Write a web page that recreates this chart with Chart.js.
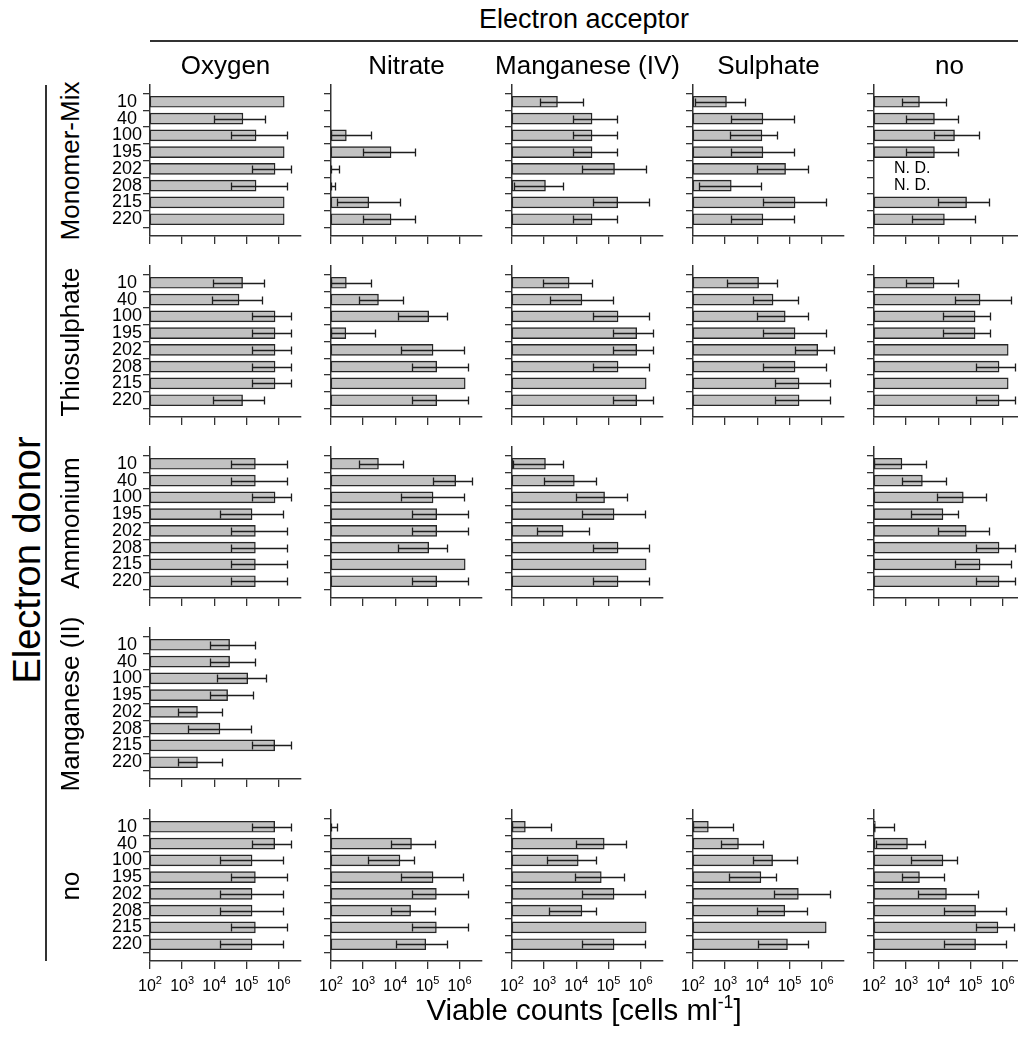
<!DOCTYPE html>
<html>
<head>
<meta charset="utf-8">
<script src="https://cdn.jsdelivr.net/npm/chart.js@4/dist/chart.umd.min.js"></script>
<style>
  html, body { margin: 0; padding: 0; background: #fff; overflow: hidden; }
  body { position: relative; width: 1018px; height: 1038px; font-family: "Liberation Sans", Arial, sans-serif; color: #000; }
  .panel { position: absolute; }
  .txt { position: absolute; white-space: nowrap; transform: translate(-50%, -50%); line-height: 1; }
  .rot { transform: translate(-50%, -50%) rotate(-90deg); }
  .rule { position: absolute; background: #333; }
  sup { font-size: 60%; vertical-align: 0.7em; line-height: 0; }
</style>
</head>
<body>
<script>
// strains on the y axis, log counts on the x axis
const categories = ['10', '40', '100', '195', '202', '208', '215', '220'];
const acceptors = ['Oxygen', 'Nitrate', 'Manganese (IV)', 'Sulphate', 'no'];
const donors = ['Monomer-Mix', 'Thiosulphate', 'Ammonium', 'Manganese (II)', 'no'];
const exponents = [2, 3, 4, 5, 6];

// Monomer-Mix
const mixOxygen = [1.5e6, 7.8e4, 2.0e5, 1.5e6, 7.8e5, 2.0e5, 1.5e6, 1.5e6];
const mixOxygenErr = [null, [1e4, 3.7e5], [3.4e4, 1.9e6], null, [1.5e5, 2.5e6], [3.4e4, 1.9e6], null, null];
const mixNitrate = [null, null, 300, 7.4e3, null, null, 1.5e3, 7.4e3];
const mixNitrateErr = [null, null, [100, 1.8e3], [980, 4.2e4], [100, 180], [100, 130], [150, 1.4e4], [980, 4.2e4]];
const mixMnIV = [2.6e3, 3.1e4, 3.1e4, 3.1e4, 1.55e5, 1.1e3, 1.95e5, 3.1e4];
const mixMnIVErr = [[720, 1.6e4], [7.8e3, 1.9e5], [7.8e3, 1.9e5], [7.8e3, 1.9e5], [1.55e4, 1.45e6], [115, 3.9e3], [3.4e4, 1.9e6], [7.8e3, 1.9e5]];
const mixSulphate = [1.1e3, 1.5e4, 1.4e4, 1.5e4, 7.6e4, 1.55e3, 1.5e5, 1.5e4];
const mixSulphateErr = [[115, 4.1e3], [1.55e3, 1.4e5], [1.4e3, 4.1e4], [1.55e3, 1.4e5], [1e4, 3.8e5], [150, 1.35e4], [1.5e4, 1.4e6], [1.55e3, 1.4e5]];
const mixNone = [2.6e3, 7.6e3, 3.2e4, 7.6e3, null, null, 7.6e4, 1.55e4];
const mixNoneErr = [[740, 1.7e4], [980, 4.2e4], [7.6e3, 1.8e5], [980, 4.2e4], null, null, [9.8e3, 3.8e5], [1.5e3, 1.4e5]];
const mixNoneNotes = [null, null, null, null, 'N. D.', 'N. D.', null, null];

// Thiosulphate
const thioOxygen = [7.6e4, 5.9e4, 7.8e5, 7.8e5, 7.8e5, 7.8e5, 7.8e5, 7.6e4];
const thioOxygenErr = [[9.3e3, 3.6e5], [8.7e3, 3.0e5], [1.45e5, 2.4e6], [1.45e5, 2.4e6], [1.45e5, 2.4e6], [1.45e5, 2.4e6], [1.45e5, 2.4e6], [9.3e3, 3.6e5]];
const thioNitrate = [300, 3.0e3, 1.1e5, 290, 1.5e5, 1.95e5, 1.5e6, 1.95e5];
const thioNitrateErr = [[100, 1.8e3], [740, 1.8e4], [1.2e4, 4.1e5], [100, 2.3e3], [1.55e4, 1.4e6], [3.3e4, 1.9e6], null, [3.3e4, 1.9e6]];
const thioMnIV = [6.0e3, 1.5e4, 2.0e5, 7.6e5, 7.6e5, 2.0e5, 1.5e6, 7.6e5];
const thioMnIVErr = [[890, 3.0e4], [1.5e3, 1.4e5], [3.4e4, 1.9e6], [1.4e5, 2.4e6], [1.4e5, 2.4e6], [3.4e4, 1.9e6], null, [1.4e5, 2.4e6]];
const thioSulphate = [1.1e4, 3.1e4, 7.4e4, 1.5e5, 7.6e5, 1.5e5, 2.0e5, 2.0e5];
const thioSulphateErr = [[1.15e3, 4.0e4], [7.4e3, 1.9e5], [1e4, 3.7e5], [1.55e4, 1.4e6], [1.45e5, 2.4e6], [1.55e4, 1.4e6], [3.5e4, 1.9e6], [3.5e4, 1.9e6]];
const thioNone = [7.4e3, 2.0e5, 1.4e5, 1.4e5, 1.5e6, 7.8e5, 1.5e6, 7.8e5];
const thioNoneErr = [[1e3, 4.1e4], [3.4e4, 1.9e6], [1.4e4, 4.1e5], [1.4e4, 4.1e5], null, [1.5e5, 2.4e6], null, [1.5e5, 2.4e6]];

// Ammonium
const ammOxygen = [1.9e5, 1.9e5, 7.8e5, 1.5e5, 1.9e5, 1.9e5, 1.9e5, 1.9e5];
const ammOxygenErr = [[3.3e4, 1.8e6], [3.3e4, 1.8e6], [1.45e5, 2.4e6], [1.5e4, 1.4e6], [3.3e4, 1.8e6], [3.3e4, 1.8e6], [3.3e4, 1.8e6], [3.3e4, 1.8e6]];
const ammNitrate = [3.0e3, 7.6e5, 1.5e5, 1.95e5, 1.95e5, 1.1e5, 1.5e6, 1.95e5];
const ammNitrateErr = [[740, 1.8e4], [1.5e5, 2.4e6], [1.55e4, 1.4e6], [3.3e4, 1.9e6], [3.3e4, 1.9e6], [1.2e4, 4.1e5], null, [3.3e4, 1.9e6]];
const ammMnIV = [1.1e3, 8.7e3, 7.6e4, 1.5e5, 3.9e3, 2.0e5, 1.5e6, 2.0e5];
const ammMnIVErr = [[110, 4.0e3], [1e3, 4.0e4], [9.5e3, 3.7e5], [1.55e4, 1.4e6], [590, 2.5e4], [3.4e4, 1.9e6], null, [3.4e4, 1.9e6]];
const ammNone = [740, 3.2e3, 6.0e4, 1.4e4, 7.4e4, 7.8e5, 2.0e5, 7.8e5];
const ammNoneErr = [[100, 4.1e3], [740, 1.8e4], [9.1e3, 3.0e5], [1.4e3, 4.1e4], [9.8e3, 3.8e5], [1.5e5, 2.4e6], [3.4e4, 1.9e6], [1.5e5, 2.4e6]];

// Manganese (II)
const mnOxygen = [3.0e4, 3.0e4, 1.1e5, 2.6e4, 3.0e3, 1.5e4, 7.6e5, 3.0e3];
const mnOxygenErr = [[7.4e3, 1.8e5], [7.4e3, 1.8e5], [1.2e4, 4.1e5], [7.2e3, 1.6e5], [720, 1.8e4], [1.5e3, 1.4e5], [1.5e5, 2.4e6], [720, 1.8e4]];

// no donor
const noneOxygen = [7.6e5, 7.6e5, 1.5e5, 1.9e5, 1.5e5, 1.5e5, 1.9e5, 1.5e5];
const noneOxygenErr = [[1.5e5, 2.4e6], [1.5e5, 2.4e6], [1.5e4, 1.4e6], [3.4e4, 1.9e6], [1.5e4, 1.4e6], [1.5e4, 1.4e6], [3.4e4, 1.9e6], [1.5e4, 1.4e6]];
const noneNitrate = [null, 3.2e4, 1.4e4, 1.5e5, 1.9e5, 3.0e4, 1.9e5, 8.9e4];
const noneNitrateErr = [[100, 150], [7.6e3, 1.7e5], [1.45e3, 3.9e4], [1.55e4, 1.3e6], [3.3e4, 1.8e6], [7.6e3, 1.7e5], [3.3e4, 1.8e6], [1.02e4, 4.1e5]];
const noneMnIV = [260, 7.4e4, 1.15e4, 6.0e4, 1.5e5, 1.5e4, 1.5e6, 1.5e5];
const noneMnIVErr = [[100, 1.6e3], [9.8e3, 3.6e5], [1.2e3, 4.0e4], [8.9e3, 3.0e5], [1.55e4, 1.4e6], [1.4e3, 4.0e4], null, [1.55e4, 1.4e6]];
const noneSulphate = [300, 2.6e3, 3.0e4, 1.3e4, 1.9e5, 7.2e4, 1.4e6, 8.7e4];
const noneSulphateErr = [[100, 1.8e3], [720, 1.55e4], [7.2e3, 1.7e5], [1.3e3, 3.8e4], [3.2e4, 1.8e6], [9.8e3, 3.5e5], null, [1.02e4, 3.9e5]];
const noneNone = [110, 1.1e3, 1.4e4, 2.6e3, 1.8e4, 1.45e5, 7.2e5, 1.45e5];
const noneNoneErr = [[100, 410], [115, 3.9e3], [1.4e3, 3.8e4], [720, 1.5e4], [2.3e3, 1.7e5], [1.55e4, 1.3e6], [1.45e5, 2.3e6], [1.55e4, 1.3e6]];

// rows = donors, columns = acceptors; null = not tested
const panels = [
  [[mixOxygen, mixOxygenErr], [mixNitrate, mixNitrateErr], [mixMnIV, mixMnIVErr], [mixSulphate, mixSulphateErr], [mixNone, mixNoneErr, mixNoneNotes]],
  [[thioOxygen, thioOxygenErr], [thioNitrate, thioNitrateErr], [thioMnIV, thioMnIVErr], [thioSulphate, thioSulphateErr], [thioNone, thioNoneErr]],
  [[ammOxygen, ammOxygenErr], [ammNitrate, ammNitrateErr], [ammMnIV, ammMnIVErr], null, [ammNone, ammNoneErr]],
  [[mnOxygen, mnOxygenErr], null, null, null, null],
  [[noneOxygen, noneOxygenErr], [noneNitrate, noneNitrateErr], [noneMnIV, noneMnIVErr], [noneSulphate, noneSulphateErr], [noneNone, noneNoneErr]]
];

const FONT = '"Liberation Sans", Arial, sans-serif';
const COL_X = [150, 331, 512, 693, 874];
const ROW_Y = [85, 266, 447, 628, 810];
const AREA_W = 151, AREA_H = 151;
const PAD_L = 60, PAD_T = 14, PAD_R = 10, PAD_B = 40;
const X_MAX = 5e6;

function addText(html, x, y, size, rotated) {
  const d = document.createElement('div');
  d.className = 'txt' + (rotated ? ' rot' : '');
  d.style.left = x + 'px';
  d.style.top = y + 'px';
  d.style.fontSize = size + 'px';
  d.innerHTML = html;
  document.body.appendChild(d);
}

function addRule(x, y, w, h) {
  const d = document.createElement('div');
  d.className = 'rule';
  Object.assign(d.style, { left: x + 'px', top: y + 'px', width: w + 'px', height: h + 'px' });
  document.body.appendChild(d);
}

// error whiskers, N. D. notes and the 10^n labels under the last row
function overlay(errs, notes, withTicks) {
  return {
    id: 'overlay',
    afterDatasetsDraw(chart) {
      const { ctx, scales: { x, y } } = chart;
      ctx.save();
      ctx.strokeStyle = '#1e1e1e';
      ctx.lineWidth = 1.3;
      errs.forEach((e, i) => {
        if (!e) return;
        const py = Math.round(y.getPixelForValue(i + 1)) + 0.5;
        const a = Math.round(x.getPixelForValue(e[0])) + 0.5;
        const b = Math.round(x.getPixelForValue(e[1])) + 0.5;
        ctx.beginPath();
        ctx.moveTo(a, py); ctx.lineTo(b, py);
        ctx.moveTo(a, py - 4); ctx.lineTo(a, py + 4);
        ctx.moveTo(b, py - 4); ctx.lineTo(b, py + 4);
        ctx.stroke();
      });
      ctx.fillStyle = '#000';
      ctx.textBaseline = 'middle';
      if (notes) {
        ctx.font = '16px ' + FONT;
        ctx.textAlign = 'left';
        notes.forEach((t, i) => {
          if (t) ctx.fillText(t, x.left + 20, y.getPixelForValue(i + 1));
        });
      }
      if (withTicks) {
        const baseY = y.bottom + 30;
        exponents.forEach(n => {
          const px = x.getPixelForValue(Math.pow(10, n));
          ctx.font = '16px ' + FONT;
          const wb = ctx.measureText('10').width;
          ctx.font = '11px ' + FONT;
          const we = ctx.measureText(String(n)).width;
          const left = px - (wb + we) / 2;
          ctx.textAlign = 'left';
          ctx.textBaseline = 'alphabetic';
          ctx.font = '16px ' + FONT;
          ctx.fillText('10', left, baseY);
          ctx.font = '11px ' + FONT;
          ctx.fillText(String(n), left + wb, baseY - 7);
        });
      }
      ctx.restore();
    }
  };
}

function makePanel(r, c, cell) {
  const [values, errs, notes] = cell;
  const canvas = document.createElement('canvas');
  canvas.className = 'panel';
  canvas.width = PAD_L + AREA_W + PAD_R;
  canvas.height = PAD_T + AREA_H + PAD_B;
  canvas.style.left = (COL_X[c] - PAD_L) + 'px';
  canvas.style.top = (ROW_Y[r] - PAD_T) + 'px';
  document.body.appendChild(canvas);

  const points = values.map((v, i) => (v == null ? null : { x: v, y: i + 1 })).filter(Boolean);

  new Chart(canvas, {
    type: 'bar',
    data: {
      datasets: [{
        data: points,
        backgroundColor: '#c2c2c2',
        borderColor: '#262626',
        borderWidth: 1.4,
        borderSkipped: false,
        barThickness: 11
      }]
    },
    options: {
      indexAxis: 'y',
      responsive: false,
      animation: false,
      devicePixelRatio: 1,
      layout: { padding: { left: 0, top: PAD_T, right: PAD_R, bottom: 0 } },
      plugins: { legend: { display: false }, tooltip: { enabled: false } },
      scales: {
        x: {
          type: 'logarithmic',
          min: 100,
          max: X_MAX,
          offset: false,
          afterBuildTicks: s => { s.ticks = exponents.map(n => ({ value: Math.pow(10, n) })); },
          afterFit: s => { s.height = PAD_B; },
          ticks: { display: false },
          grid: { drawOnChartArea: false, tickLength: 8, color: '#333', lineWidth: 1.3 },
          border: { color: '#333', width: 1.5 }
        },
        y: {
          type: 'linear',
          min: 0,
          max: 9,
          reverse: true,
          offset: false,
          afterBuildTicks: s => { s.ticks = categories.map((_, i) => ({ value: i + 1 })); },
          afterFit: s => { s.width = PAD_L; },
          ticks: {
            display: c === 0,
            autoSkip: false,
            padding: 1,
            crossAlign: 'center',
            color: '#000',
            font: { family: FONT, size: 18 },
            callback: v => categories[v - 1]
          },
          grid: { drawOnChartArea: false, tickLength: 7, color: '#333', lineWidth: 1.3 },
          border: { color: '#333', width: 1.5 }
        }
      }
    },
    plugins: [overlay(errs, notes, r === panels.length - 1)]
  });
}

panels.forEach((row, r) => row.forEach((cell, c) => { if (cell) makePanel(r, c, cell); }));

// headings and frame lines
addText('Electron acceptor', 584, 19, 27);
addRule(150, 40, 868, 1.5);
acceptors.forEach((name, c) => addText(name, COL_X[c] + AREA_W / 2, 65, 26));
addText('Electron donor', 27, 560, 38, true);
addRule(45, 85, 1.5, 876);
donors.forEach((name, r) => addText(name, 70, ROW_Y[r] + 76, 26, true));
addText('Viable counts [cells ml<sup>-1</sup>]', 584, 1010, 29.5);
</script>
</body>
</html>
